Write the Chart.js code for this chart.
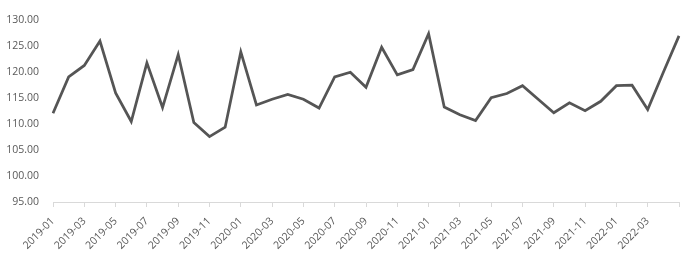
<!DOCTYPE html>
<html>
<head>
<meta charset="utf-8">
<script src="https://cdn.jsdelivr.net/npm/chart.js@4/dist/chart.umd.min.js"></script>
<style>
  html, body { margin: 0; padding: 0; background: #fff; }
  #wrap { width: 700px; height: 260px; }
</style>
</head>
<body>
<div id="wrap"><canvas id="lineChart"></canvas></div>
<script>
const months = [
  '2019-01', '2019-02', '2019-03', '2019-04', '2019-05', '2019-06', '2019-07', '2019-08', '2019-09', '2019-10', '2019-11', '2019-12',
  '2020-01', '2020-02', '2020-03', '2020-04', '2020-05', '2020-06', '2020-07', '2020-08', '2020-09', '2020-10', '2020-11', '2020-12',
  '2021-01', '2021-02', '2021-03', '2021-04', '2021-05', '2021-06', '2021-07', '2021-08', '2021-09', '2021-10', '2021-11', '2021-12',
  '2022-01', '2022-02', '2022-03', '2022-04', '2022-05'
];
const values = [
  112.1, 119.1, 121.3, 126.0, 116.0, 110.5, 121.8, 113.2, 123.4, 110.3, 107.6, 109.4,
  123.9, 113.7, 114.8, 115.7, 114.8, 113.1, 119.1, 120.0, 117.1, 124.8, 119.5, 120.5,
  127.4, 113.3, 111.8, 110.7, 115.1, 115.9, 117.4, 114.8, 112.2, 114.1, 112.6, 114.4,
  117.4, 117.5, 112.8, 120.0, 127.0
];
const yMin = 95;
const yMax = 130;
const yStep = 5;

const lineCol = '#555555';
const textCol = '#595959';
const axisCol = '#d9d9d9';

Chart.defaults.font.family = "'Open Sans', sans-serif";
Chart.defaults.font.size = 10.5;
Chart.defaults.color = textCol;

new Chart(document.getElementById('lineChart'), {
  type: 'line',
  data: {
    labels: months,
    datasets: [{
      data: values,
      borderColor: lineCol,
      borderWidth: 2.75,
      pointRadius: 0,
      tension: 0,
      fill: false
    }]
  },
  options: {
    responsive: true,
    maintainAspectRatio: false,
    animation: false,
    layout: { padding: { top: 10, right: 21, left: 0, bottom: 0 } },
    plugins: {
      legend: { display: false },
      tooltip: { enabled: false }
    },
    scales: {
      x: {
        offset: false,
        border: { display: true, color: axisCol, width: 1 },
        grid: {
          drawOnChartArea: false,
          drawTicks: true,
          tickLength: 5,
          color: axisCol
        },
        ticks: {
          autoSkip: false,
          minRotation: 45,
          maxRotation: 45,
          padding: 8,
          color: textCol,
          callback: function (v, i) {
            if (i % 2 !== 0) return null;
            if (i === months.length - 1) return '';
            return months[i];
          }
        },
        afterFit: s => { s.height = 58; }
      },
      y: {
        min: yMin,
        max: yMax,
        border: { display: false },
        grid: { display: false, drawTicks: false },
        ticks: {
          stepSize: yStep,
          padding: 14,
          color: textCol,
          callback: v => v.toFixed(2)
        },
        afterFit: s => { s.width = 53; }
      }
    }
  }
});
</script>
</body>
</html>
